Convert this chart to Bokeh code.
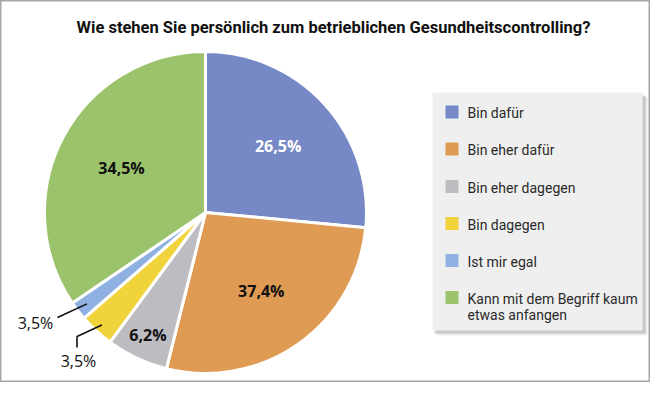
import numpy as np
from bokeh.plotting import figure
from bokeh.models import Range1d, ColumnDataSource
from bokeh.embed import file_html
from bokeh.resources import INLINE
from bokeh.core.properties import value

# ---------------- data ----------------
title_text = "Wie stehen Sie persönlich zum betrieblichen Gesundheitscontrolling?"
categories = ["Bin dafür", "Bin eher dafür", "Bin eher dagegen", "Bin dagegen",
              "Ist mir egal", "Kann mit dem Begriff kaum\netwas anfangen"]
shares = [26.5, 27.4, 6.2, 3.5, 1.9, 34.5]          # slice sizes as drawn
label_texts = ["26,5%", "37,4%", "6,2%", "3,5%", "3,5%", "34,5%"]  # printed labels
colors = ["#7688C6", "#DF9B53", "#BDBCC1", "#F1D43B", "#8FB1E1", "#9BC36B"]

# ---------------- layout (picture pixel coordinates) ----------------
W, H = 650, 382
def Y(py):  # picture y -> data y
    return H - py

CX, CY, R = 205, Y(212), 161
label_r = [0.61, 0.60, 0.84, None, None, 0.59]
label_colors = ["white", "#111111", "#111111", "#111111", "#111111", "#111111"]

p = figure(width=W, height=H, output_backend="svg", toolbar_location=None,
           x_range=Range1d(0, W), y_range=Range1d(0, H),
           x_axis_location=None, y_axis_location=None, min_border=0,
           background_fill_color="white", border_fill_color="white")
p.grid.visible = False
p.outline_line_color = "#A8A8A8"
p.outline_line_width = 2

# title
p.text(x=[333], y=[Y(27)], text=[title_text], text_align="center", text_baseline="middle",
       text_font=value("Roboto"), text_font_style="bold",
       text_font_size="16.5px", text_color="#111111")

# pie
frac = np.array(shares) / float(np.sum(shares))
cum = np.concatenate([[0], np.cumsum(frac)])
start = np.pi / 2 - 2 * np.pi * cum[1:]
end = np.pi / 2 - 2 * np.pi * cum[:-1]
src = ColumnDataSource(dict(start=start, end=end, color=colors))
p.wedge(x=CX, y=CY, radius=R, start_angle="start", end_angle="end",
        fill_color="color", line_color="white", line_width=3, source=src)

mid = 2 * np.pi * (cum[:-1] + cum[1:]) / 2  # clockwise from top

# inside labels
for i, rf in enumerate(label_r):
    if rf is None:
        continue
    lx = CX + rf * R * np.sin(mid[i])
    ly = CY + rf * R * np.cos(mid[i])
    p.text(x=[lx], y=[ly], text=[label_texts[i]], text_align="center", text_baseline="middle",
           text_font=value("Open Sans"), text_font_style="bold", text_font_size="16px",
           text_color=label_colors[i])

# outside labels with leader lines
# Ist mir egal (index 4)
ax = CX + 0.93 * R * np.sin(mid[4]); ay = CY + 0.93 * R * np.cos(mid[4])
p.line(x=[ax, 57], y=[ay, Y(317)], line_color="#111111", line_width=1.6)
p.text(x=[35], y=[Y(322)], text=[label_texts[4]], text_align="center", text_baseline="middle",
       text_font=value("Open Sans"), text_font_size="16px", text_color="#111111")
# Bin dagegen (index 3)
bx = CX + 0.95 * R * np.sin(mid[3]); by = CY + 0.95 * R * np.cos(mid[3])
p.line(x=[bx, 76.5, 76.5], y=[by, Y(336), Y(347)], line_color="#111111", line_width=1.6)
p.text(x=[78], y=[Y(360)], text=[label_texts[3]], text_align="center", text_baseline="middle",
       text_font=value("Open Sans"), text_font_size="16px", text_color="#111111")

# legend box with shadow
LX0, LX1, LY0, LY1 = 432, 642, 92, 330
for off, a in [(5, 0.10), (4, 0.15), (3, 0.25)]:
    p.quad(left=[LX0 + off - 1], right=[LX1 + off], top=[Y(LY0 + off)], bottom=[Y(LY1 + off)],
           fill_color="#808080", fill_alpha=a, line_color=None)
p.quad(left=[LX0], right=[LX1], top=[Y(LY0)], bottom=[Y(LY1)],
       fill_color="#EFEFEF", line_color=None)

row_y = [111.5, 148.5, 186, 223, 260, 297]
p.rect(x=[451.5] * 6, y=[Y(v) for v in row_y], width=13, height=13,
       fill_color=colors, line_color=None)
for i, cat in enumerate(categories):
    lines = cat.split("\n")
    for j, ln in enumerate(lines):
        p.text(x=[467], y=[Y(row_y[i] + 1 + j * 16)], text=[ln], text_align="left",
               text_baseline="middle", text_font=value("Roboto"),
               text_font_size="14px", text_color="#2A2A2A")

open("out.html", "w").write(file_html(p, INLINE))
